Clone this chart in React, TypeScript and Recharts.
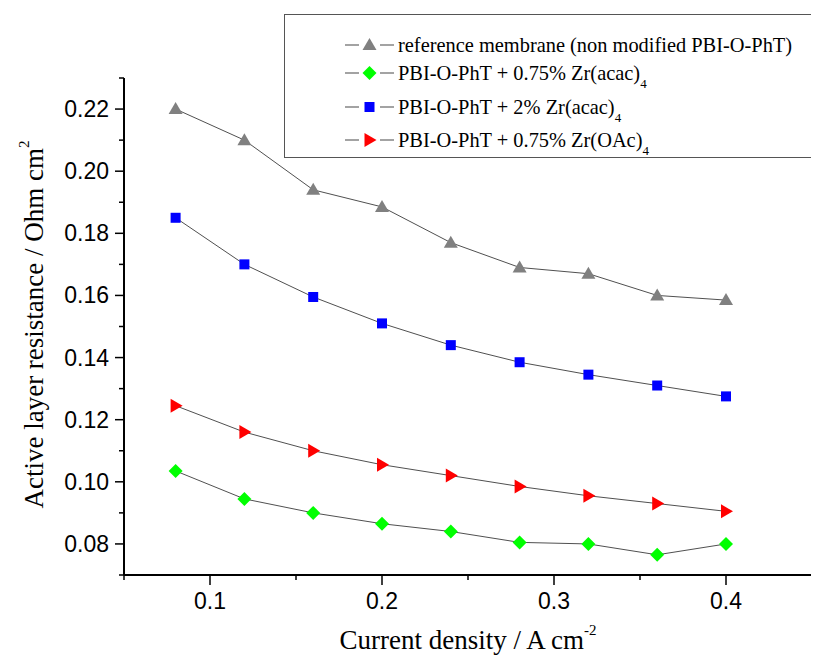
import React from "react";
import { LineChart, Line, XAxis, YAxis, Legend } from "recharts";

const currentDensity = [0.08, 0.12, 0.16, 0.2, 0.24, 0.28, 0.32, 0.36, 0.4];
const referenceMembrane = [0.22, 0.21, 0.194, 0.1885, 0.177, 0.169, 0.167, 0.16, 0.1585];
const zrAcac075 = [0.1035, 0.0945, 0.09, 0.0865, 0.084, 0.0805, 0.08, 0.0765, 0.08];
const zrAcac2 = [0.185, 0.17, 0.1595, 0.151, 0.144, 0.1385, 0.1345, 0.131, 0.1275];
const zrOAc075 = [0.1245, 0.116, 0.11, 0.1055, 0.102, 0.0985, 0.0955, 0.093, 0.0905];

const xTicks = [0.05, 0.1, 0.15, 0.2, 0.25, 0.3, 0.35, 0.4, 0.45];
const xMajor = [0.1, 0.2, 0.3, 0.4];
const yTicks = [0.07, 0.08, 0.09, 0.1, 0.11, 0.12, 0.13, 0.14, 0.15, 0.16, 0.17, 0.18, 0.19, 0.2, 0.21, 0.22, 0.23];
const yMajor = [0.08, 0.1, 0.12, 0.14, 0.16, 0.18, 0.2, 0.22];

const data = currentDensity.map((x, i) => ({
  x,
  ref: referenceMembrane[i],
  acac075: zrAcac075[i],
  acac2: zrAcac2[i],
  oac: zrOAc075[i],
}));

const LINE_COLOR = "#505050";
const SERIF = "'Liberation Serif', 'Times New Roman', serif";
const SANS = "'Liberation Sans', Arial, sans-serif";

type MarkerKind = "triUp" | "diamond" | "square" | "triRight";
const MARKER_COLORS: Record<MarkerKind, string> = {
  triUp: "#808080",
  diamond: "#00ff00",
  square: "#0000ff",
  triRight: "#ff0000",
};

const Marker = ({ kind, cx, cy }: { kind: MarkerKind; cx: number; cy: number }) => {
  const c = MARKER_COLORS[kind];
  if (kind === "triUp") {
    return <path d={`M${cx},${cy - 7} L${cx + 7},${cy + 5} L${cx - 7},${cy + 5} Z`} fill={c} />;
  }
  if (kind === "diamond") {
    return <path d={`M${cx},${cy - 7} L${cx + 7},${cy} L${cx},${cy + 7} L${cx - 7},${cy} Z`} fill={c} />;
  }
  if (kind === "square") {
    return <rect x={cx - 5} y={cy - 5} width={10} height={10} fill={c} />;
  }
  return <path d={`M${cx - 5},${cy - 7} L${cx + 7},${cy} L${cx - 5},${cy + 7} Z`} fill={c} />;
};

const makeDot = (kind: MarkerKind) => (p: any) => {
  if (p.cx == null || p.cy == null) return <g key={`${kind}-${p.index}`} />;
  return (
    <g key={`${kind}-${p.index}`}>
      <Marker kind={kind} cx={p.cx} cy={p.cy} />
    </g>
  );
};

const XTick = (props: any) => {
  const { x, y, payload } = props;
  const v = payload.value;
  const major = xMajor.some((m) => Math.abs(m - v) < 1e-9);
  return (
    <g>
      <line x1={x} y1={y} x2={x} y2={y + (major ? 10 : 5)} stroke="#000" strokeWidth={1.5} />
      {major && (
        <text x={x} y={y + 34} textAnchor="middle" fontFamily={SANS} fontSize={23} fill="#000">
          {v.toFixed(1)}
        </text>
      )}
    </g>
  );
};

const YTick = (props: any) => {
  const { x, y, payload } = props;
  const v = payload.value;
  const major = yMajor.some((m) => Math.abs(m - v) < 1e-9);
  return (
    <g>
      <line x1={x - (major ? 9 : 5)} y1={y} x2={x} y2={y} stroke="#000" strokeWidth={1.5} />
      {major && (
        <text x={x - 15} y={y + 8} textAnchor="end" fontFamily={SANS} fontSize={23} fill="#000">
          {v.toFixed(2)}
        </text>
      )}
    </g>
  );
};

const YTitle = (props: any) => {
  const vb = props.viewBox || {};
  const cx = 35;
  const cy = vb.y + vb.height / 2 - 2;
  return (
    <text
      x={cx}
      y={cy}
      transform={`rotate(-90, ${cx}, ${cy})`}
      textAnchor="middle"
      fontFamily={SERIF}
      fontSize={27}
      fill="#000"
    >
      Active layer resistance / Ohm cm
      <tspan fontSize={15} dy={-14}>2</tspan>
    </text>
  );
};

const XTitle = (props: any) => {
  const vb = props.viewBox || {};
  const cx = vb.x + vb.width / 2;
  return (
    <text x={cx} y={641} textAnchor="middle" fontFamily={SERIF} fontSize={27} fill="#000">
      Current density / A cm
      <tspan fontSize={15} dy={-14}>-2</tspan>
    </text>
  );
};

const legendItems: { kind: MarkerKind; label: string; sub?: string; cy: number }[] = [
  { kind: "triUp", label: "reference membrane (non modified PBI-O-PhT)", cy: 31 },
  { kind: "diamond", label: "PBI-O-PhT + 0.75% Zr(acac)", sub: "4", cy: 59 },
  { kind: "square", label: "PBI-O-PhT + 2% Zr(acac)", sub: "4", cy: 93 },
  { kind: "triRight", label: "PBI-O-PhT + 0.75% Zr(OAc)", sub: "4", cy: 126 },
];

const LegendBox = () => (
  <svg width={528} height={145} style={{ display: "block" }}>
    <rect x={0.5} y={0.5} width={527} height={143} fill="#fff" stroke="#555" strokeWidth={1} />
    {legendItems.map((it) => (
      <g key={it.kind}>
        <line x1={61} y1={it.cy} x2={75} y2={it.cy} stroke="#666" strokeWidth={1.2} />
        <line x1={96} y1={it.cy} x2={110} y2={it.cy} stroke="#666" strokeWidth={1.2} />
        <Marker kind={it.kind} cx={85.5} cy={it.cy} />
        <text x={114} y={it.cy + 7} fontFamily={SERIF} fontSize={20.4} fill="#000">
          {it.label}
          {it.sub && (
            <tspan fontSize={13} dy={8}>
              {it.sub}
            </tspan>
          )}
        </text>
      </g>
    ))}
  </svg>
);

export default function App() {
  return (
    <LineChart
      width={811}
      height={649}
      data={data}
      margin={{ top: 70, right: 7, bottom: 22, left: 0 }}
    >
      <XAxis
        dataKey="x"
        type="number"
        domain={[0.05, 0.45]}
        ticks={xTicks}
        interval={0}
        allowDataOverflow
        height={60}
        axisLine={{ stroke: "#000", strokeWidth: 2 }}
        tickLine={false}
        tickSize={0}
        tickMargin={0}
        tick={<XTick />}
        label={<XTitle />}
      />
      <YAxis
        type="number"
        domain={[0.07, 0.23]}
        ticks={yTicks}
        interval={0}
        allowDataOverflow
        width={116}
        axisLine={{ stroke: "#000", strokeWidth: 2 }}
        tickLine={false}
        tickSize={0}
        tickMargin={0}
        tick={<YTick />}
        label={<YTitle />}
      />
      <Legend
        layout="vertical"
        align="center"
        verticalAlign="middle"
        wrapperStyle={{ left: 276, top: 6, width: 528, height: 145 }}
        content={() => <LegendBox />}
      />
      <Line dataKey="ref" name="reference membrane (non modified PBI-O-PhT)" stroke={LINE_COLOR} strokeWidth={1} dot={makeDot("triUp")} activeDot={false} isAnimationActive={false} />
      <Line dataKey="acac075" name="PBI-O-PhT + 0.75% Zr(acac)4" stroke={LINE_COLOR} strokeWidth={1} dot={makeDot("diamond")} activeDot={false} isAnimationActive={false} />
      <Line dataKey="acac2" name="PBI-O-PhT + 2% Zr(acac)4" stroke={LINE_COLOR} strokeWidth={1} dot={makeDot("square")} activeDot={false} isAnimationActive={false} />
      <Line dataKey="oac" name="PBI-O-PhT + 0.75% Zr(OAc)4" stroke={LINE_COLOR} strokeWidth={1} dot={makeDot("triRight")} activeDot={false} isAnimationActive={false} />
    </LineChart>
  );
}
